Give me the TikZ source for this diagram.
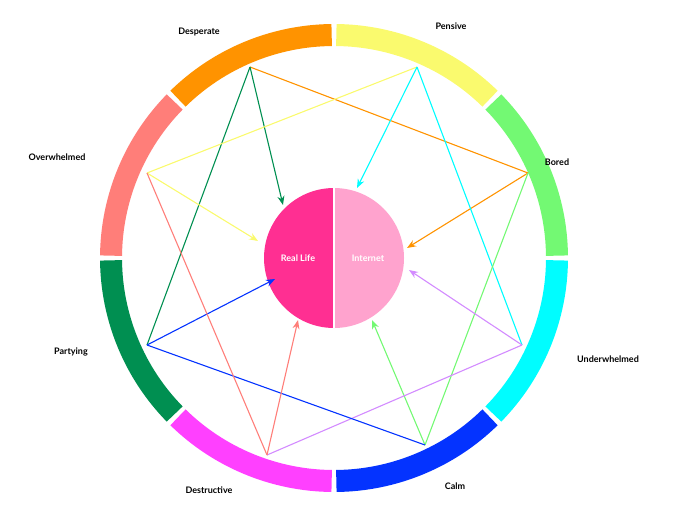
\documentclass[tikz,border=0pt]{standalone}
\usepackage{fontspec}
\setmainfont{Lato}
\usetikzlibrary{arrows.meta}
\definecolor{cOr}{HTML}{FF9300}
\definecolor{cYe}{HTML}{FAFA6E}
\definecolor{cGr}{HTML}{73F973}
\definecolor{cCy}{HTML}{00FDFF}
\definecolor{cBl}{HTML}{0433FF}
\definecolor{cMa}{HTML}{FF40FF}
\definecolor{cDg}{HTML}{008F51}
\definecolor{cSa}{HTML}{FF7E79}
\definecolor{cVi}{HTML}{D38BFF}
\definecolor{cHp}{HTML}{FF2F92}
\definecolor{cLp}{HTML}{FFA3CE}
\begin{document}
\begin{tikzpicture}[x=1pt,y=-1pt,
  lbl/.style={font=\bfseries\small},
  ln/.style={line width=1.1pt},
  ar/.style={line width=1.1pt,-{Stealth[length=9pt,width=7pt]}}]
\useasboundingbox (0,0) rectangle (676,524);
\coordinate (c) at (334,258);
\foreach \a/\col in {0/cGr,45/cYe,90/cOr,135/cSa,180/cDg,225/cMa,270/cBl,315/cCy}{
  \draw[line width=22pt,\col] (c) ++(-\a-0.6:223) arc[start angle=-\a-0.6,end angle=-\a-44.4,radius=223];
}
\fill[cHp] (c) ++(0,-70) arc[start angle=-90,end angle=-270,radius=70] -- cycle;
\fill[cLp] (c) ++(0,-70) arc[start angle=-90,end angle=90,radius=70] -- cycle;
\draw[white,line width=1.5pt] (334,188) -- (334,328);
\node[white,font=\bfseries\small] (rl) at (298,258) {Real Life};
\node[white,font=\bfseries\small] (in) at (368,258) {Internet};
\coordinate (De) at (250,67);
\coordinate (Pe) at (417,67);
\coordinate (Bo) at (528,173);
\coordinate (Un) at (522,345);
\coordinate (Ca) at (425,445);
\coordinate (Ds) at (267,455);
\coordinate (Pa) at (147,345);
\coordinate (Ov) at (147,173);
\draw[ln,cOr] (De) -- (Bo); \draw[ar,cOr] (Bo) -- (407,248);
\draw[ln,cDg] (Pa) -- (De); \draw[ar,cDg] (De) -- (283,205);
\draw[ln,cYe] (Pe) -- (Ov); \draw[ar,cYe] (Ov) -- (258,241);
\draw[ln,cCy] (Un) -- (Pe); \draw[ar,cCy] (Pe) -- (357,188);
\draw[ln,cGr] (Bo) -- (Ca); \draw[ar,cGr] (Ca) -- (372,320);
\draw[ln,cVi] (Ds) -- (Un); \draw[ar,cVi] (Un) -- (409,270);
\draw[ln,cBl] (Ca) -- (Pa); \draw[ar,cBl] (Pa) -- (275,279);
\draw[ln,cSa] (Ov) -- (Ds); \draw[ar,cSa] (Ds) -- (298,320);
\node[lbl] (l1) at (199,32) {Desperate};
\node[lbl] (l2) at (451,26) {Pensive};
\node[lbl] (l3) at (557,162) {Bored};
\node[lbl] (l4) at (608,359) {Underwhelmed};
\node[lbl] (l5) at (455,486) {Calm};
\node[lbl] (l6) at (209,490) {Destructive};
\node[lbl] (l7) at (71,352) {Partying};
\node[lbl] (l8) at (57,157) {Overwhelmed};
\end{tikzpicture}
\end{document}
